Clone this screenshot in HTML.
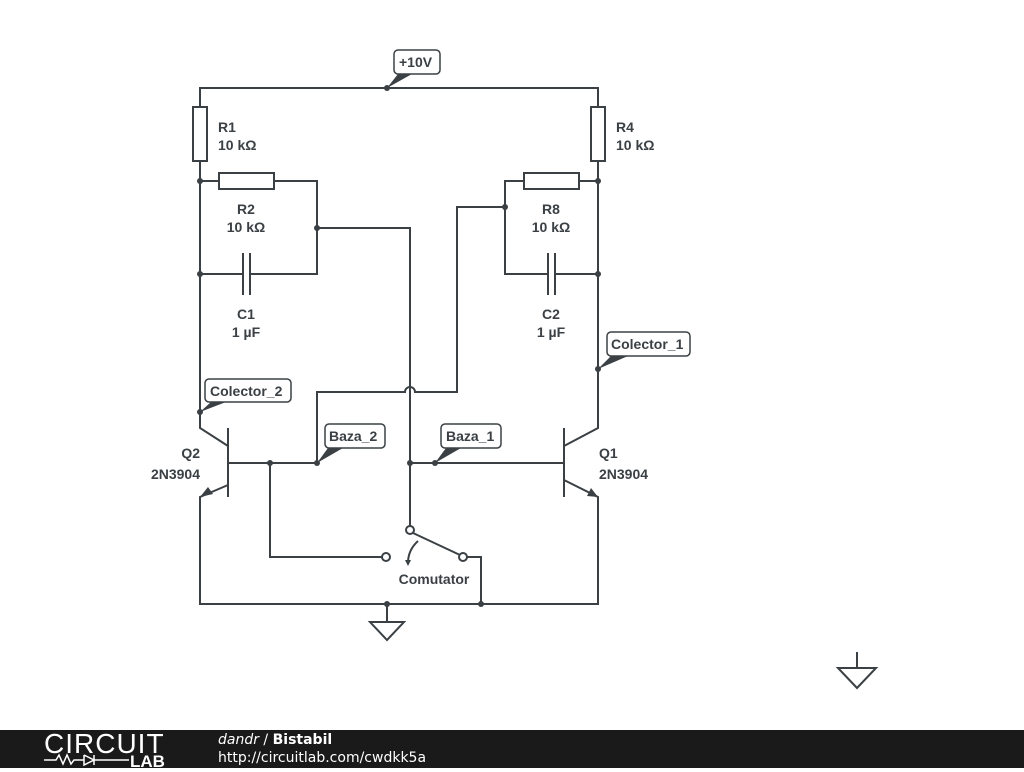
<!DOCTYPE html>
<html><head><style>
body{margin:0;background:#fff;width:1024px;height:768px;overflow:hidden;position:relative;font-family:"Liberation Sans",sans-serif}
svg{position:absolute;left:0;top:0}
.f{position:absolute;left:0;top:730px;width:1024px;height:38px;background:#1a1a1a}
</style></head><body>
<svg width="1024" height="768" viewBox="0 0 1024 768">
<g stroke="#3a4044" stroke-width="2" fill="none">
<path d="M200 107V88H598V107M200 161V428L228 446M598 161V428L564 446"/>
<rect x="193" y="107" width="14" height="54" fill="#fff"/>
<rect x="591" y="107" width="14" height="54" fill="#fff"/>
<path d="M200 181H219M274 181H317V274H251M243 274H200"/>
<rect x="219" y="173" width="55" height="16" fill="#fff"/>
<path d="M243 253V295M250 253V295"/>
<path d="M598 181H579M524 181H505V274H548M555 274H598"/>
<rect x="524" y="173" width="55" height="16" fill="#fff"/>
<path d="M548 253V295M555 253V295"/>
<path d="M317 228H410V526"/>
<path d="M505 207H457V392H415A5 5 0 0 0 405 392H317V463"/>
<path d="M228 428V497M564 428V497"/>
<path d="M228 463H317M410 463H564M270 463V557H382"/>
<path d="M228 485L200 497V604H598V497L564 480"/>
<path d="M387 604V622M370 622H404L387 640Z"/>
<path d="M481 604V557H467"/>
<path d="M413 533L460 555"/>
<path d="M418 541Q408 550 408 563"/>
<path d="M857 652V668M838 668H876L857 688Z"/>
<circle cx="410" cy="530" r="4" fill="#fff"/>
<circle cx="386" cy="557" r="4" fill="#fff"/>
<circle cx="463" cy="557" r="4" fill="#fff"/>
</g>
<g fill="#3a4044">
<path d="M200 497L208 487L213 494Z"/>
<path d="M598 497L587 496L591 488Z"/>
<path d="M405 560L411 560L408 566Z"/>
<circle cx="387" cy="88" r="3"/><circle cx="200" cy="181" r="3"/><circle cx="598" cy="181" r="3"/>
<circle cx="317" cy="228" r="3"/><circle cx="505" cy="207" r="3"/><circle cx="200" cy="274" r="3"/><circle cx="598" cy="274" r="3"/>
<circle cx="270" cy="463" r="3"/><circle cx="410" cy="463" r="3"/><circle cx="317" cy="463" r="3"/><circle cx="435" cy="463" r="3"/>
<circle cx="200" cy="412" r="3"/><circle cx="598" cy="369" r="3"/>
<circle cx="387" cy="604" r="3"/><circle cx="481" cy="604" r="3"/>
<path d="M387 88L398 74H412Z"/>
<path d="M200 412L211 402H226Z"/>
<path d="M598 369L611 356H628Z"/>
<path d="M317 463L328 448H343Z"/>
<path d="M435 463L446 448H461Z"/>
</g>
<g fill="#fff" stroke="#3a4044" stroke-width="1.5">
<rect x="394" y="50" width="46" height="24" rx="4"/>
<rect x="205" y="379" width="86" height="23" rx="4"/>
<rect x="607" y="332" width="83" height="24" rx="4"/>
<rect x="325" y="424" width="60" height="24" rx="4"/>
<rect x="441" y="424" width="60" height="24" rx="4"/>
</g>
<g fill="#3a4044" font-family="Liberation Sans,sans-serif" font-weight="bold" font-size="14">
<text x="399" y="67">+10V</text>
<text x="210" y="396">Colector_2</text>
<text x="611" y="349">Colector_1</text>
<text x="329" y="441">Baza_2</text>
<text x="446" y="441">Baza_1</text>
<text x="218" y="132">R1</text><text x="218" y="150">10 kΩ</text>
<text x="616" y="132">R4</text><text x="616" y="150">10 kΩ</text>
<g text-anchor="middle">
<text x="246" y="214">R2</text><text x="246" y="232">10 kΩ</text>
<text x="246" y="319">C1</text><text x="246" y="337">1 µF</text>
<text x="551" y="214">R8</text><text x="551" y="232">10 kΩ</text>
<text x="551" y="319">C2</text><text x="551" y="337">1 µF</text>
<text x="434" y="584">Comutator</text>
</g>
<g text-anchor="end"><text x="200" y="458">Q2</text><text x="200" y="479">2N3904</text></g>
<text x="599" y="458">Q1</text><text x="599" y="479">2N3904</text>
</g>
</svg>
<div class="f">
<div style="position:absolute;left:44px;top:0;color:#fff;font-size:28px;letter-spacing:1px;line-height:28px;width:135px">CIRCUIT</div>
<div style="position:absolute;left:44px;top:22px;color:#fff;font-size:11px;line-height:14px;width:135px">
<svg width="135" height="16" style="position:static"><path d="M0 8H12L15 3L19 12L23 3L27 12L30 8H40L40 3V13L50 8L40 3M50 3V13M50 8H85" stroke="#fff" stroke-width="1.5" fill="none"/><text x="86" y="15" fill="#fff" font-weight="bold" font-size="17" font-family="Liberation Sans,sans-serif">LAB</text></svg></div>
<div style="position:absolute;left:218px;top:1px;color:#fff;font-family:'DejaVu Sans',sans-serif;font-size:14px;line-height:18px"><i>dandr</i> / <b>Bistabil</b><br>http://circuitlab.com/cwdkk5a</div>
</div>
</body></html>
